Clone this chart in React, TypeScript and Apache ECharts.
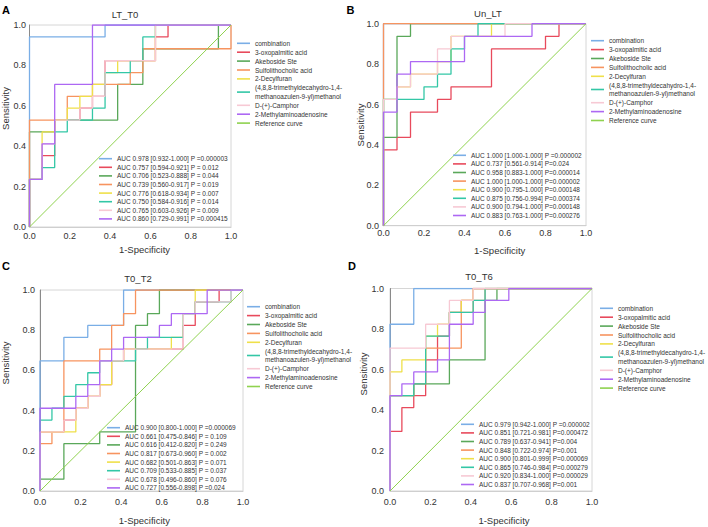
import React, { useEffect, useRef } from "react";
import * as echarts from "echarts";

const FONT = '"Liberation Sans", Arial, sans-serif';

const SERIES_NAMES = [
  "combination",
  "3-oxopalmitic acid",
  "Akeboside Ste",
  "Sulfolithocholic acid",
  "2-Decylfuran",
  "(4,8,8-trimethyldecahydro-1,4-\nmethanoazulen-9-yl)methanol",
  "D-(+)-Camphor",
  "2-Methylaminoadenosine",
];
const REF_NAME = "Reference curve";
const TICKS = [0, 0.2, 0.4, 0.6, 0.8, 1.0];

// ---- Panel A: LT_T0 (counts of true positives per 1-specificity step)
const A_TITLE = "LT_T0";
const A_NNEG = 16;
const A_NPOS = 17;
const A_COMBINATION = [16, 16, 16, 16, 16, 16, 17, 17, 17, 17, 17, 17, 17, 17, 17, 17];
const A_OXOPALMITIC = [4, 6, 9, 9, 10, 11, 14, 14, 14, 14, 16, 17, 17, 17, 17, 17];
const A_AKEBOSIDE = [8, 8, 9, 9, 9, 9, 9, 12, 12, 15, 15, 15, 15, 15, 15, 17];
const A_SULFO = [9, 9, 9, 11, 11, 12, 12, 12, 13, 15, 15, 15, 15, 15, 15, 15];
const A_DECYLFURAN = [4, 8, 9, 10, 11, 12, 13, 14, 14, 14, 17, 17, 17, 17, 17, 17];
const A_METHANOL = [4, 5, 8, 9, 9, 10, 13, 13, 14, 16, 17, 17, 17, 17, 17, 17];
const A_CAMPHOR = [4, 7, 9, 9, 10, 11, 14, 14, 14, 14, 17, 17, 17, 17, 17, 17];
const A_ADENOSINE = [4, 7, 12, 12, 12, 17, 17, 17, 17, 17, 17, 17, 17, 17, 17, 17];
const A_AUC = [
  "AUC 0.978 [0.932-1.000] P =0.000003",
  "AUC 0.757 [0.594-0.921] P = 0.012",
  "AUC 0.706 [0.523-0.888] P = 0.044",
  "AUC 0.739 [0.560-0.917] P = 0.019",
  "AUC 0.776 [0.618-0.934] P = 0.007",
  "AUC 0.750 [0.584-0.916] P = 0.014",
  "AUC 0.765 [0.603-0.926] P = 0.009",
  "AUC 0.860 [0.729-0.991] P =0.000415",
];

// ---- Panel B: Un_LT
const B_TITLE = "Un_LT";
const B_NNEG = 15;
const B_NPOS = 16;
const B_COMBINATION = [16, 16, 16, 16, 16, 16, 16, 16, 16, 16, 16, 16, 16, 16, 16];
const B_OXOPALMITIC = [6, 7, 9, 9, 10, 11, 11, 11, 14, 14, 14, 14, 15, 16, 16];
const B_AKEBOSIDE = [7, 15, 16, 16, 16, 16, 16, 16, 16, 16, 16, 16, 16, 16, 16];
const B_SULFO = [16, 16, 16, 16, 16, 16, 16, 16, 16, 16, 16, 16, 16, 16, 16];
const B_DECYLFURAN = [10, 11, 12, 12, 13, 15, 15, 15, 16, 16, 16, 16, 16, 16, 16];
const B_METHANOL = [10, 10, 10, 11, 12, 14, 15, 16, 16, 16, 16, 16, 16, 16, 16];
const B_CAMPHOR = [10, 11, 12, 12, 14, 15, 15, 15, 15, 16, 16, 16, 16, 16, 16];
const B_ADENOSINE = [9, 12, 13, 13, 13, 13, 15, 15, 15, 15, 15, 16, 16, 16, 16];
const B_AUC = [
  "AUC 1.000 [1.000-1.000] P =0.000002",
  "AUC 0.737 [0.561-0.914] P=0.024",
  "AUC 0.958 [0.883-1.000] P=0.000014",
  "AUC 1.000 [1.000-1.000] P=0.000002",
  "AUC 0.900 [0.795-1.000] P=0.000148",
  "AUC 0.875 [0.756-0.994] P=0.000374",
  "AUC 0.900 [0.794-1.000] P=0.000148",
  "AUC 0.883 [0.763-1.000] P=0.000276",
];

// ---- Panel C: T0_T2
const C_TITLE = "T0_T2";
const C_NNEG = 17;
const C_NPOS = 17;
const C_COMBINATION = [11, 11, 13, 13, 14, 14, 14, 17, 17, 17, 17, 17, 17, 17, 17, 17, 17];
const C_OXOPALMITIC = [5, 5, 6, 7, 8, 9, 11, 12, 12, 12, 12, 12, 14, 16, 16, 17, 17];
const C_AKEBOSIDE = [1, 1, 4, 4, 4, 5, 5, 5, 14, 15, 17, 17, 17, 17, 17, 17, 17];
const C_SULFO = [4, 5, 11, 11, 11, 12, 14, 15, 17, 17, 17, 17, 17, 17, 17, 17, 17];
const C_DECYLFURAN = [5, 5, 5, 7, 8, 9, 11, 12, 12, 12, 12, 13, 15, 17, 17, 17, 17];
const C_METHANOL = [6, 7, 8, 9, 10, 11, 11, 11, 12, 13, 13, 13, 15, 16, 16, 16, 17];
const C_CAMPHOR = [5, 5, 6, 7, 8, 11, 11, 12, 12, 12, 12, 12, 15, 16, 16, 16, 17];
const C_ADENOSINE = [7, 7, 7, 8, 9, 11, 12, 13, 13, 13, 14, 15, 15, 15, 17, 17, 17];
const C_AUC = [
  "AUC 0.900 [0.800-1.000] P =0.000069",
  "AUC 0.661 [0.475-0.846] P = 0.109",
  "AUC 0.616 [0.412-0.820] P = 0.249",
  "AUC 0.817 [0.673-0.960] P = 0.002",
  "AUC 0.682 [0.501-0.863] P = 0.071",
  "AUC 0.709 [0.533-0.885] P = 0.037",
  "AUC 0.678 [0.496-0.860] P = 0.076",
  "AUC 0.727 [0.556-0.898] P =0.024",
];

// ---- Panel D: T0_T6
const D_TITLE = "T0_T6";
const D_NNEG = 17;
const D_NPOS = 17;
const D_COMBINATION = [14, 14, 17, 17, 17, 17, 17, 17, 17, 17, 17, 17, 17, 17, 17, 17, 17];
const D_OXOPALMITIC = [5, 7, 8, 11, 13, 15, 16, 17, 17, 17, 17, 17, 17, 17, 17, 17, 17];
const D_AKEBOSIDE = [8, 8, 9, 9, 9, 11, 11, 11, 16, 17, 17, 17, 17, 17, 17, 17, 17];
const D_SULFO = [8, 8, 9, 12, 12, 12, 15, 16, 17, 17, 17, 17, 17, 17, 17, 17, 17];
const D_DECYLFURAN = [10, 11, 11, 13, 14, 15, 16, 17, 17, 17, 17, 17, 17, 17, 17, 17, 17];
const D_METHANOL = [8, 8, 9, 13, 13, 15, 15, 16, 17, 17, 17, 17, 17, 17, 17, 17, 17];
const D_CAMPHOR = [12, 12, 12, 14, 14, 16, 16, 17, 17, 17, 17, 17, 17, 17, 17, 17, 17];
const D_ADENOSINE = [8, 9, 10, 10, 11, 14, 14, 15, 16, 16, 17, 17, 17, 17, 17, 17, 17];
const D_AUC = [
  "AUC 0.979 [0.942-1.000] P =0.000002",
  "AUC 0.851 [0.721-0.981] P=0.000472",
  "AUC 0.789 [0.637-0.941] P=0.004",
  "AUC 0.848 [0.722-0.974] P=0.001",
  "AUC 0.900 [0.801-0.999] P=0.000069",
  "AUC 0.865 [0.746-0.984] P=0.000279",
  "AUC 0.920 [0.834-1.000] P=0.000029",
  "AUC 0.837 [0.707-0.968] P=0.001",
];

const PANELS = [
  { title: A_TITLE, nNeg: A_NNEG, nPos: A_NPOS, auc: A_AUC,
    curves: [A_COMBINATION, A_OXOPALMITIC, A_AKEBOSIDE, A_SULFO, A_DECYLFURAN, A_METHANOL, A_CAMPHOR, A_ADENOSINE] },
  { title: B_TITLE, nNeg: B_NNEG, nPos: B_NPOS, auc: B_AUC,
    curves: [B_COMBINATION, B_OXOPALMITIC, B_AKEBOSIDE, B_SULFO, B_DECYLFURAN, B_METHANOL, B_CAMPHOR, B_ADENOSINE] },
  { title: C_TITLE, nNeg: C_NNEG, nPos: C_NPOS, auc: C_AUC,
    curves: [C_COMBINATION, C_OXOPALMITIC, C_AKEBOSIDE, C_SULFO, C_DECYLFURAN, C_METHANOL, C_CAMPHOR, C_ADENOSINE] },
  { title: D_TITLE, nNeg: D_NNEG, nPos: D_NPOS, auc: D_AUC,
    curves: [D_COMBINATION, D_OXOPALMITIC, D_AKEBOSIDE, D_SULFO, D_DECYLFURAN, D_METHANOL, D_CAMPHOR, D_ADENOSINE] },
];
const LETTERS = ["A", "B", "C", "D"];

// ---- styles / layout (not data)
const COLORS = ["#7aaee6", "#e84a5c", "#5aa85a", "#f7945f", "#efe04a", "#33c7a6", "#f7c9d4", "#ad68f3"];
const REF_COLOR = "#8fd24f";

const LAYOUT = [
  { grid: { left: 29.5, top: 25, width: 201.5, height: 202 }, xMargin: 4, yMargin: 3.5,
    title: [125, 14], letter: [6, 10], yName: [5.5, 108.5], xName: [144.5, 249.7],
    legend: [237, 39], aucLegend: [99, 154.4] },
  { grid: { left: 383.5, top: 23.7, width: 202.5, height: 202 }, xMargin: 3, yMargin: 4.5,
    title: [488, 13.3], letter: [350.5, 10], yName: [360, 125], xName: [499.7, 250],
    legend: [591, 36.4], aucLegend: [453, 151] },
  { grid: { left: 40, top: 290, width: 203, height: 201 }, xMargin: 6, yMargin: 5,
    title: [138, 278], letter: [6, 266], yName: [5.5, 363], xName: [144.3, 520.7],
    legend: [247, 302.4], aucLegend: [107, 423.4] },
  { grid: { left: 390, top: 288.5, width: 202, height: 202.5 }, xMargin: 6, yMargin: 6,
    title: [479, 276.3], letter: [352, 266], yName: [363, 374], xName: [504, 520.7],
    legend: [600, 304], aucLegend: [461, 420] },
];

function rocPoints(levels: number[], nNeg: number, nPos: number): number[][] {
  const pts: number[][] = [[0, 0]];
  levels.forEach((c, i) => pts.push([i / nNeg, c / nPos]));
  pts.push([1, 1]);
  return pts;
}

function txt(text: string, x: number, y: number, size: number, extra: any = {}) {
  return {
    type: "text",
    x,
    y,
    rotation: extra.rotation || 0,
    z: 100,
    style: {
      text,
      fill: extra.fill || "#333",
      fontSize: size,
      fontFamily: FONT,
      fontWeight: extra.bold ? "bold" : "normal",
      align: "center",
      verticalAlign: "middle",
      textAlign: "center",
      textVerticalAlign: "middle",
    },
  };
}

function buildOption() {
  const grid: any[] = [];
  const xAxis: any[] = [];
  const yAxis: any[] = [];
  const series: any[] = [];
  const legend: any[] = [];
  const graphic: any[] = [];

  PANELS.forEach((p, pi) => {
    const L = LAYOUT[pi];
    grid.push({ ...L.grid, show: true, borderColor: "#d6d6d6", borderWidth: 1, backgroundColor: "transparent", outerBoundsMode: "none", containLabel: false });
    const axisCommon = {
      type: "value",
      gridIndex: pi,
      min: TICKS[0],
      max: TICKS[TICKS.length - 1],
      interval: 0.2,
      splitLine: { show: false },
      axisTick: { show: false },
    };
    xAxis.push({
      ...axisCommon,
      axisLine: { show: true, lineStyle: { color: "#cfcfcf", width: 1 } },
      axisLabel: { margin: L.xMargin, fontSize: 9, fontFamily: FONT, color: "#333", formatter: (v: number) => v.toFixed(1) },
    });
    yAxis.push({
      ...axisCommon,
      axisLine: { show: true, lineStyle: { color: "#8a8a8a", width: 1 } },
      axisLabel: { margin: L.yMargin, fontSize: 9, fontFamily: FONT, color: "#333", formatter: (v: number) => v.toFixed(1) },
    });

    p.curves.forEach((lv, ci) => {
      series.push({
        type: "line",
        name: SERIES_NAMES[ci],
        xAxisIndex: pi,
        yAxisIndex: pi,
        data: rocPoints(lv, p.nNeg, p.nPos),
        step: "end",
        symbol: "none",
        showSymbol: false,
        color: COLORS[ci],
        itemStyle: { color: COLORS[ci] },
        lineStyle: { color: COLORS[ci], width: 1.3 },
        silent: true,
      });
    });
    series.push({
      type: "line",
      name: REF_NAME,
      xAxisIndex: pi,
      yAxisIndex: pi,
      data: [[0, 0], [1, 1]],
      symbol: "none",
      showSymbol: false,
      color: REF_COLOR,
      itemStyle: { color: REF_COLOR },
      lineStyle: { color: REF_COLOR, width: 1 },
      silent: true,
    });

    legend.push({
      orient: "vertical",
      left: L.legend[0],
      top: L.legend[1],
      padding: 0,
      itemGap: 0.3,
      itemWidth: 13,
      itemHeight: 1.6,
      icon: "rect",
      selectedMode: false,
      data: [...SERIES_NAMES, REF_NAME],
      textStyle: { fontSize: 6.5, fontFamily: FONT, color: "#333", lineHeight: 8.6 },
    });
    const aucTexts = p.auc;
    legend.push({
      orient: "vertical",
      left: L.aucLegend[0],
      top: L.aucLegend[1],
      padding: 0,
      itemGap: 0,
      itemWidth: 13,
      itemHeight: 1.6,
      icon: "rect",
      selectedMode: false,
      data: [...SERIES_NAMES],
      formatter: (name: string) => aucTexts[SERIES_NAMES.indexOf(name)],
      textStyle: { fontSize: 6.5, fontFamily: FONT, color: "#333", lineHeight: 8.6 },
    });

    graphic.push(txt(p.title, L.title[0], L.title[1], 9.5));
    graphic.push(txt(LETTERS[pi], L.letter[0], L.letter[1], 11, { bold: true, fill: "#000" }));
    graphic.push(txt("Sensitivity", L.yName[0], L.yName[1], 9.5, { rotation: Math.PI / 2 }));
    graphic.push(txt("1-Specificity", L.xName[0], L.xName[1], 9.5));
  });

  return {
    animation: false,
    backgroundColor: "#ffffff",
    grid,
    xAxis,
    yAxis,
    series,
    legend,
    graphic,
  };
}

export default function App() {
  const ref = useRef<HTMLDivElement>(null);
  useEffect(() => {
    if (!ref.current) return;
    const chart = echarts.init(ref.current, undefined, { renderer: "svg" });
    chart.setOption(buildOption() as any);
    return () => chart.dispose();
  }, []);
  return (
    <div
      ref={ref}
      style={{ position: "fixed", left: 0, top: 0, width: 708, height: 527, background: "#fff" }}
    />
  );
}
